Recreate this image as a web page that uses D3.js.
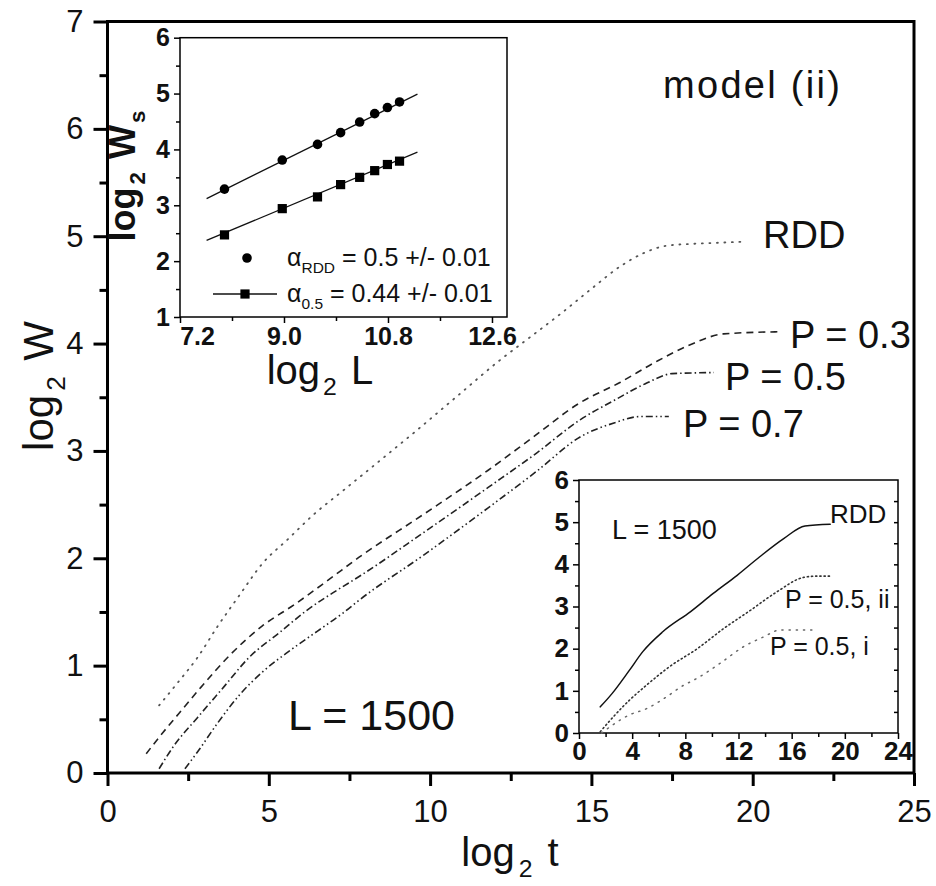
<!DOCTYPE html>
<html>
<head>
<meta charset="utf-8">
<script src="https://cdn.jsdelivr.net/npm/d3@7"></script>
<style>
  body { margin: 0; background: #fff; }
  svg text { font-family: "Liberation Sans", Arial, sans-serif; fill: #111; }
  .domain { display: none; }
</style>
</head>
<body>
<svg id="chart" width="936" height="886"></svg>
<script>
// ---- main panel: log2 W vs log2 t, L = 1500, model (ii)
var tRDD = [1.6, 2.2, 2.8, 3.4, 4.1, 4.8, 5.6, 6.4, 7.3, 8.2, 9.5, 10.8, 12.1, 13.1, 14.1, 15.0, 15.9, 16.6, 17.3, 18.2, 19.0, 19.8];
var wRDD = [0.63, 0.85, 1.08, 1.36, 1.66, 1.95, 2.18, 2.41, 2.63, 2.85, 3.17, 3.50, 3.83, 4.06, 4.29, 4.51, 4.72, 4.84, 4.91, 4.93, 4.94, 4.95];
var tP03 = [1.2, 1.7, 2.2, 2.9, 3.8, 4.8, 5.8, 6.9, 7.8, 9.8, 11.8, 13.2, 14.6, 15.9, 17.0, 18.0, 19.1, 20.8];
var wP03 = [0.18, 0.37, 0.55, 0.80, 1.10, 1.37, 1.57, 1.81, 2.01, 2.41, 2.82, 3.13, 3.44, 3.64, 3.83, 3.98, 4.09, 4.11];
var tP05 = [1.6, 2.05, 2.8, 3.6, 4.4, 5.3, 6.2, 7.1, 7.8, 9.8, 11.8, 13.3, 14.65, 15.7, 16.7, 17.5, 18.8];
var wP05 = [0.04, 0.25, 0.52, 0.80, 1.08, 1.30, 1.52, 1.70, 1.83, 2.24, 2.66, 2.98, 3.29, 3.47, 3.63, 3.72, 3.73];
var tP07 = [2.4, 2.8, 3.4, 4.1, 4.8, 5.7, 6.5, 7.3, 7.8, 9.8, 11.8, 13.3, 14.65, 15.7, 16.5, 17.4];
var wP07 = [0.04, 0.20, 0.46, 0.73, 0.94, 1.15, 1.32, 1.49, 1.61, 2.03, 2.47, 2.81, 3.13, 3.26, 3.32, 3.32];

// ---- top-left inset: saturation width vs system size
var logL   = [7.97, 8.97, 9.58, 9.98, 10.31, 10.57, 10.79, 11.0];
var wsRDD  = [3.29, 3.81, 4.09, 4.30, 4.49, 4.64, 4.75, 4.85];
var wsP05  = [2.47, 2.94, 3.15, 3.37, 3.50, 3.62, 3.73, 3.79];
var fitL   = [7.66, 11.31];
var fitRDD = [3.12, 4.99];
var fitP05 = [2.37, 3.95];

// ---- bottom-right inset: RDD vs P = 0.5 for model (i) and (ii)
var tInRDD = [1.6, 2.5, 3.8, 4.8, 6.3, 8.4, 10.1, 11.9, 13.6, 15.4, 17.0, 18.9];
var wInRDD = [0.62, 0.94, 1.49, 1.93, 2.40, 2.88, 3.31, 3.74, 4.18, 4.61, 4.91, 4.95];
var tInII  = [1.6, 2.6, 3.8, 5.1, 6.8, 8.9, 10.9, 12.9, 14.9, 16.9, 17.9, 19.0];
var wInII  = [0.03, 0.39, 0.78, 1.14, 1.57, 2.00, 2.48, 2.91, 3.35, 3.69, 3.72, 3.72];
var tInI   = [1.7, 3.8, 5.1, 6.6, 7.7, 8.9, 10.6, 12.4, 13.9, 15.1, 17.9];
var wInI   = [0.0, 0.43, 0.58, 0.86, 1.10, 1.30, 1.65, 2.05, 2.28, 2.44, 2.44];

var svg = d3.select("#chart");

function zip(xs, ys) { return xs.map(function(x, i) { return [x, ys[i]]; }); }

// text with subscripts: parts = [[string, isSub, dx], ...]
function richText(g, x, y, parts, size, opts) {
  opts = opts || {};
  var t = g.append("text")
    .attr("x", x).attr("y", y)
    .style("font-size", size + "px")
    .attr("text-anchor", opts.anchor || "start");
  if (opts.bold) t.style("font-weight", "bold");
  if (opts.transform) t.attr("transform", opts.transform);
  var shifted = false;
  parts.forEach(function(p) {
    var s = t.append("tspan").text(p[0]);
    if (p[1] && !shifted) { s.attr("dy", size * 0.28).style("font-size", (size * 0.62) + "px"); shifted = true; }
    else if (!p[1] && shifted) { s.attr("dy", -size * 0.28); shifted = false; }
    if (p[2]) s.attr("dx", p[2]);
  });
  return t;
}

// ================= main panel =================
var x = d3.scaleLinear().domain([0, 25]).range([107.5, 914]);
var y = d3.scaleLinear().domain([0, 7]).range([773, 21.5]);

var line = d3.line()
  .x(function(d) { return x(d[0]); })
  .y(function(d) { return y(d[1]); })
  .curve(d3.curveMonotoneX);

var curves = [
  {t: tRDD, w: wRDD, dash: "1,6.5", width: 1.8, cap: "round", color: "#555"},
  {t: tP03, w: wP03, dash: "7,5", width: 1.6, cap: "butt", color: "#222"},
  {t: tP05, w: wP05, dash: "7,3,1.5,3", width: 1.6, cap: "butt", color: "#222"},
  {t: tP07, w: wP07, dash: "7,3,1.5,3,1.5,3", width: 1.6, cap: "butt", color: "#222"}
];
svg.append("g").selectAll("path")
  .data(curves)
  .enter().append("path")
  .attr("d", function(d) { return line(zip(d.t, d.w)); })
  .attr("fill", "none")
  .attr("stroke", function(d) { return d.color; })
  .attr("stroke-width", function(d) { return d.width; })
  .attr("stroke-dasharray", function(d) { return d.dash; })
  .attr("stroke-linecap", function(d) { return d.cap; });

// frame
svg.append("rect")
  .attr("x", x(0)).attr("y", y(7))
  .attr("width", x(25) - x(0)).attr("height", y(0) - y(7))
  .attr("fill", "none").attr("stroke", "#000").attr("stroke-width", 3);

// axes
var xAxis = svg.append("g").attr("transform", "translate(0," + y(0) + ")")
  .call(d3.axisBottom(x).tickValues([0, 5, 10, 15, 20, 25]).tickSize(13).tickPadding(14).tickFormat(d3.format("d")));
svg.append("g").attr("transform", "translate(0," + y(0) + ")")
  .call(d3.axisBottom(x).tickValues([2.5, 7.5, 12.5, 17.5, 22.5]).tickSize(8).tickFormat(""));
var yAxis = svg.append("g").attr("transform", "translate(" + x(0) + ",0)")
  .call(d3.axisLeft(y).tickValues(d3.range(0, 8)).tickSize(14).tickPadding(10).tickFormat(d3.format("d")));
svg.append("g").attr("transform", "translate(" + x(0) + ",0)")
  .call(d3.axisLeft(y).tickValues([0.5, 1.5, 2.5, 3.5, 4.5, 5.5, 6.5]).tickSize(8).tickFormat(""));
svg.selectAll(".tick line").attr("stroke", "#000").attr("stroke-width", 3);
xAxis.selectAll("text").style("font-size", "31px").attr("fill", "#111");
yAxis.selectAll("text").style("font-size", "31px").attr("fill", "#111");

// axis titles
richText(svg, 510, 866, [["log"], ["2", true, 4], [" t", false, 4]], 40, {anchor: "middle"});
richText(svg, 0, 0, [["log"], ["2", true, 4], [" W", false, 4]], 42,
  {anchor: "middle", transform: "translate(53,386) rotate(-90)"});

// in-plot labels
richText(svg, 663, 98, [["model (ii)"]], 38).style("letter-spacing", "2.3px");
richText(svg, 763, 248, [["RDD"]], 38);
richText(svg, 790, 348, [["P = 0.3"]], 38);
richText(svg, 725, 390, [["P = 0.5"]], 38);
richText(svg, 683, 437, [["P = 0.7"]], 38);
richText(svg, 288, 730, [["L = 1500"]], 43);

// ================= top-left inset =================
var inA = svg.append("g");
var xa = d3.scaleLinear().domain([7.2, 12.86]).range([180, 507]);
var ya = d3.scaleLinear().domain([1, 6]).range([317, 37.7]);

inA.append("rect")
  .attr("x", xa.range()[0]).attr("y", ya.range()[1])
  .attr("width", xa.range()[1] - xa.range()[0]).attr("height", ya.range()[0] - ya.range()[1])
  .attr("fill", "#fff").attr("stroke", "#000").attr("stroke-width", 1.5);

var axA = inA.append("g").attr("transform", "translate(0," + ya(1) + ")")
  .call(d3.axisBottom(xa).tickValues([7.2, 9.0, 10.8, 12.6]).tickSize(6).tickPadding(4).tickFormat(d3.format(".1f")));
inA.append("g").attr("transform", "translate(0," + ya(1) + ")")
  .call(d3.axisBottom(xa).tickValues([8.1, 9.9, 11.7]).tickSize(4).tickFormat(""));
var ayA = inA.append("g").attr("transform", "translate(" + xa(7.2) + ",0)")
  .call(d3.axisLeft(ya).tickValues([1, 2, 3, 4, 5, 6]).tickSize(6).tickPadding(4).tickFormat(d3.format("d")));
inA.append("g").attr("transform", "translate(" + xa(7.2) + ",0)")
  .call(d3.axisLeft(ya).tickValues([1.5, 2.5, 3.5, 4.5, 5.5]).tickSize(4).tickFormat(""));
inA.selectAll(".tick line").attr("stroke", "#000").attr("stroke-width", 1.5);
inA.selectAll(".tick text").style("font-size", "25px").style("font-weight", "bold").attr("fill", "#111");
// first x label sits right of the corner, clear of the "1"
axA.selectAll(".tick text").filter(function(d) { return d === 7.2; }).attr("dx", 17);

var lineA = d3.line().x(function(d) { return xa(d[0]); }).y(function(d) { return ya(d[1]); });
[fitRDD, fitP05].forEach(function(f) {
  inA.append("path").attr("d", lineA(zip(fitL, f)))
    .attr("fill", "none").attr("stroke", "#111").attr("stroke-width", 1.3);
});
inA.append("g").selectAll("circle")
  .data(zip(logL, wsRDD)).enter().append("circle")
  .attr("cx", function(d) { return xa(d[0]); })
  .attr("cy", function(d) { return ya(d[1]); })
  .attr("r", 4.8).attr("fill", "#000");
inA.append("g").selectAll("rect")
  .data(zip(logL, wsP05)).enter().append("rect")
  .attr("x", function(d) { return xa(d[0]) - 4.6; })
  .attr("y", function(d) { return ya(d[1]) - 4.6; })
  .attr("width", 9.2).attr("height", 9.2).attr("fill", "#000");

// legend
inA.append("circle").attr("cx", 247).attr("cy", 258).attr("r", 4.8).attr("fill", "#000");
richText(inA, 287, 266, [["\u03b1"], ["RDD", true], [" = 0.5 +/- 0.01"]], 25);
inA.append("line").attr("x1", 213).attr("x2", 277).attr("y1", 294).attr("y2", 294)
  .attr("stroke", "#111").attr("stroke-width", 1.3);
inA.append("rect").attr("x", 240.4).attr("y", 289.4).attr("width", 9.2).attr("height", 9.2).attr("fill", "#000");
richText(inA, 287, 302, [["\u03b1"], ["0.5", true], [" = 0.44 +/- 0.01"]], 25);

// titles
richText(inA, 320, 384, [["log"], ["2", true, 3], [" L", false, 3]], 40, {anchor: "middle"});
richText(inA, 0, 0, [["log"], ["2", true, 3], [" W", false, 3], ["s", true, 2]], 36,
  {anchor: "middle", bold: true, transform: "translate(135,176) rotate(-90)"});

// ================= bottom-right inset =================
var inB = svg.append("g");
var xb = d3.scaleLinear().domain([0, 24]).range([579, 898]);
var yb = d3.scaleLinear().domain([0, 6]).range([733, 480]);

inB.append("rect")
  .attr("x", xb(0)).attr("y", yb(6))
  .attr("width", xb(24) - xb(0)).attr("height", yb(0) - yb(6))
  .attr("fill", "#fff").attr("stroke", "#000").attr("stroke-width", 1.5);

var lineB = d3.line().x(function(d) { return xb(d[0]); }).y(function(d) { return yb(d[1]); })
  .curve(d3.curveMonotoneX);
var inCurves = [
  {t: tInRDD, w: wInRDD, dash: null, width: 1.5, color: "#111"},
  {t: tInII, w: wInII, dash: "1.2,3", width: 1.6, color: "#333"},
  {t: tInI, w: wInI, dash: "1.2,6", width: 1.5, color: "#666"}
];
inB.append("g").selectAll("path")
  .data(inCurves).enter().append("path")
  .attr("d", function(d) { return lineB(zip(d.t, d.w)); })
  .attr("fill", "none")
  .attr("stroke", function(d) { return d.color; })
  .attr("stroke-width", function(d) { return d.width; })
  .attr("stroke-dasharray", function(d) { return d.dash; })
  .attr("stroke-linecap", "round");

var axB = inB.append("g").attr("transform", "translate(0," + yb(0) + ")")
  .call(d3.axisBottom(xb).tickValues(d3.range(0, 25, 4)).tickSize(6).tickPadding(3).tickFormat(d3.format("d")));
inB.append("g").attr("transform", "translate(0," + yb(0) + ")")
  .call(d3.axisBottom(xb).tickValues(d3.range(2, 24, 4)).tickSize(4).tickFormat(""));
var ayB = inB.append("g").attr("transform", "translate(" + xb(0) + ",0)")
  .call(d3.axisLeft(yb).tickValues(d3.range(0, 7)).tickSize(6).tickPadding(4).tickFormat(d3.format("d")));
inB.append("g").attr("transform", "translate(" + xb(0) + ",0)")
  .call(d3.axisLeft(yb).tickValues(d3.range(0.5, 6, 1)).tickSize(4).tickFormat(""));
inB.append("g").attr("transform", "translate(" + xb(24) + ",0)")
  .call(d3.axisLeft(yb).tickValues(d3.range(0.5, 6, 0.5)).tickSize(4).tickFormat(""));
inB.selectAll(".tick line").attr("stroke", "#000").attr("stroke-width", 1.5);
inB.selectAll(".tick text").style("font-size", "26px").style("font-weight", "bold").attr("fill", "#111");

richText(inB, 612, 539, [["L = 1500"]], 27);
richText(inB, 830, 523, [["RDD"]], 26);
richText(inB, 785, 608, [["P = 0.5, ii"]], 25);
richText(inB, 770, 655, [["P = 0.5, i"]], 25);
</script>
</body>
</html>
